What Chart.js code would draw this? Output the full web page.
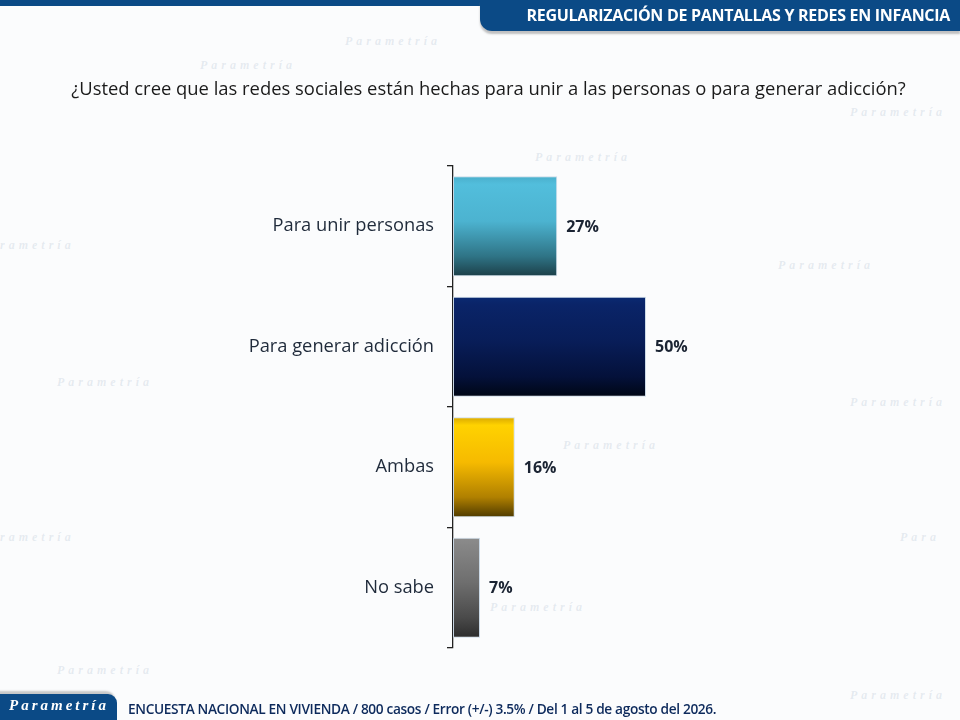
<!DOCTYPE html>
<html>
<head>
<meta charset="utf-8">
<script src="https://cdn.jsdelivr.net/npm/chart.js@4.4.1/dist/chart.umd.min.js"></script>
<style>
  html, body { margin:0; padding:0; width:960px; height:720px; overflow:hidden; background:#fbfcfd; }
  #wrap { position:relative; width:960px; height:720px; }
  #topline { position:absolute; left:0; top:0; width:960px; height:6px; background:#0b4a86; }
  #header { position:absolute; left:480px; top:0; width:480px; height:31px; background:#0b4a86;
            border-bottom-left-radius:12px; box-shadow: 0 3px 2px rgba(120,120,120,0.45); }
  #header span { position:absolute; right:10px; top:4px; color:#fff; font:bold 16px "Open Sans", sans-serif; letter-spacing:-0.3px; white-space:nowrap; }
  #title { position:absolute; left:0; width:977px; top:75px; text-align:center; color:#1a1a1a; font:18.4px "Open Sans", sans-serif; white-space:nowrap; }
  #logo { position:absolute; left:0; top:694px; width:117px; height:26px; background:#0b4a86; border-top-right-radius:9px;
          box-shadow:-2px -3px 2px rgba(120,120,120,0.4); }
  #logo span { position:absolute; left:9px; top:3px; color:#fff; font:italic bold 15px "Liberation Serif", serif; letter-spacing:3px; white-space:nowrap; }
  #foot { position:absolute; left:128px; top:699px; color:#0d2a5c; font:600 13.7px "Open Sans", sans-serif; letter-spacing:-0.35px; white-space:nowrap; }
  .wm { position:absolute; color:rgba(150,170,190,0.22); font:italic bold 12px "Liberation Serif", serif; letter-spacing:4px; white-space:nowrap; }
  canvas { position:absolute; left:0; top:0; }
</style>
</head>
<body>
<div id="wrap">
  <div class="wm" style="left:345px;top:34px">Parametría</div>
  <div class="wm" style="left:200px;top:58px">Parametría</div>
  <div class="wm" style="left:535px;top:150px">Parametría</div>
  <div class="wm" style="left:850px;top:105px">Parametría</div>
  <div class="wm" style="left:0px;top:238px">rametría</div>
  <div class="wm" style="left:778px;top:258px">Parametría</div>
  <div class="wm" style="left:850px;top:395px">Parametría</div>
  <div class="wm" style="left:57px;top:375px">Parametría</div>
  <div class="wm" style="left:563px;top:438px">Parametría</div>
  <div class="wm" style="left:0px;top:530px">rametría</div>
  <div class="wm" style="left:490px;top:600px">Parametría</div>
  <div class="wm" style="left:57px;top:663px">Parametría</div>
  <div class="wm" style="left:900px;top:530px">Para</div>
  <div class="wm" style="left:850px;top:688px">Parametría</div>
  <canvas id="c" width="960" height="720"></canvas>
  <div id="topline"></div>
  <div id="header"><span>REGULARIZACIÓN DE PANTALLAS Y REDES EN INFANCIA</span></div>
  <div id="title">¿Usted cree que las redes sociales están hechas para unir a las personas o para generar adicción?</div>
  <div id="logo"><span>Parametría</span></div>
  <div id="foot">ENCUESTA NACIONAL EN VIVIENDA / 800 casos / Error (+/-) 3.5% / Del 1 al 5 de agosto del 2026.</div>
</div>
<script>
const categories = ["Para unir personas", "Para generar adicción", "Ambas", "No sabe"];
const values = [27, 50, 16, 7];
const gradientStops = [
  ["#4aaecb", "#52bedc", "#4cb3d0", "#2f7486", "#1c3f48"],
  ["#0a2a72", "#0a2468", "#081d58", "#04113a", "#000614"],
  ["#d8a800", "#ffd200", "#f6ba00", "#b08000", "#4e3a00"],
  ["#8c8c8c", "#868686", "#6e6e6e", "#4a4a4a", "#2c2c2c"]
];
const BAR_PCT = 0.83;

function barFill(ctx) {
  const chart = ctx.chart;
  const i = ctx.dataIndex;
  if (!chart.chartArea || i === undefined) return gradientStops[i || 0][1];
  const y = chart.scales.y;
  const c = y.getPixelForValue(i);
  const band = Math.abs(y.getPixelForValue(1) - y.getPixelForValue(0));
  const h = band * BAR_PCT / 2;
  const g = chart.ctx.createLinearGradient(0, c - h, 0, c + h);
  const s = gradientStops[i];
  g.addColorStop(0, s[0]);
  g.addColorStop(0.08, s[1]);
  g.addColorStop(0.45, s[2]);
  g.addColorStop(0.8, s[3]);
  g.addColorStop(1, s[4]);
  return g;
}

const valueLabels = {
  id: 'valueLabels',
  afterDatasetsDraw(chart) {
    const ctx = chart.ctx;
    const meta = chart.getDatasetMeta(0);
    ctx.save();
    ctx.font = 'bold 16px "Open Sans", sans-serif';
    ctx.fillStyle = '#1b2433';
    ctx.textAlign = 'left';
    ctx.textBaseline = 'middle';
    meta.data.forEach((el, i) => {
      ctx.fillText(values[i] + '%', el.x + 9, el.y + 1);
    });
    ctx.restore();
  }
};

new Chart(document.getElementById('c'), {
  type: 'bar',
  data: {
    labels: categories,
    datasets: [{
      data: values,
      backgroundColor: barFill,
      borderColor: 'rgba(200,215,230,0.9)',
      borderWidth: 1,
      borderSkipped: false,
      barPercentage: BAR_PCT,
      categoryPercentage: 1
    }]
  },
  options: {
    indexAxis: 'y',
    responsive: false,
    animation: false,
    layout: { padding: { left: 0, right: 121, top: 166, bottom: 72 } },
    plugins: { legend: { display: false }, tooltip: { enabled: false }, title: { display: false } },
    scales: {
      x: { display: false, min: 0, max: 100 },
      y: {
        afterFit(scale) { scale.width = 453; },
        border: { display: true, color: '#222', width: 1.3 },
        grid: { display: true, offset: true, drawOnChartArea: false, drawTicks: true, tickLength: 6, color: '#222', lineWidth: 1.3 },
        ticks: { color: '#1f2a3a', padding: 13, font: { family: '"Open Sans", sans-serif', size: 18.3 } }
      }
    }
  },
  plugins: [valueLabels]
});
</script>
</body>
</html>
